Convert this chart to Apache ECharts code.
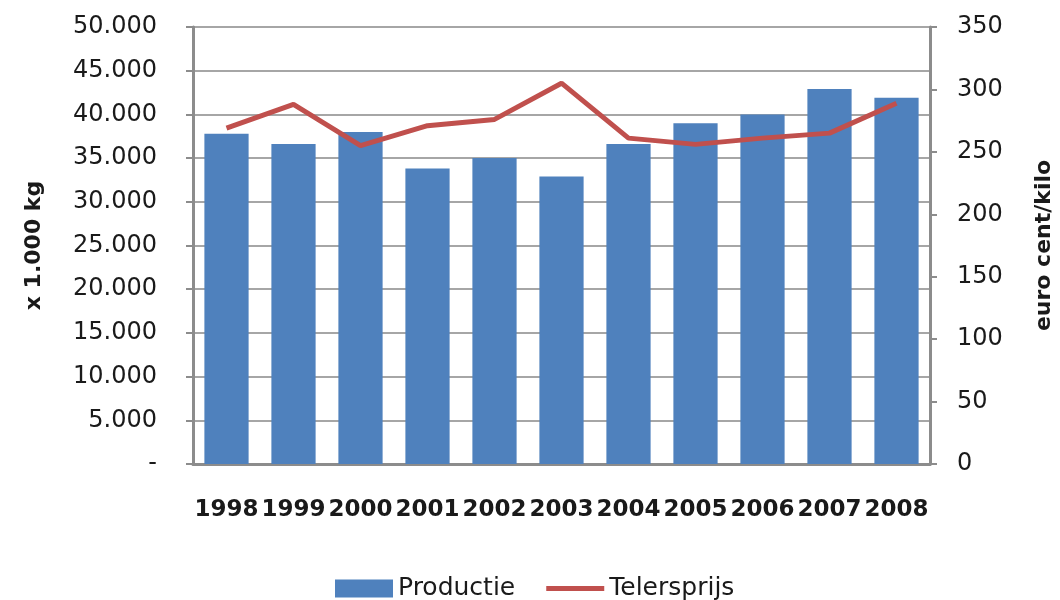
<!DOCTYPE html>
<html>
<head>
<meta charset="utf-8">
<script src="https://cdn.jsdelivr.net/npm/echarts@6/dist/echarts.min.js"></script>
<style>
  html, body { margin: 0; padding: 0; background: #fff; }
  #chart-container { width: 1060px; height: 600px; }
</style>
</head>
<body>
<div id="chart-container"></div>
<script>
var years = ["1998", "1999", "2000", "2001", "2002", "2003", "2004", "2005", "2006", "2007", "2008"];
// productie in x 1.000 kg
var productie = [37800, 36600, 38000, 33800, 35000, 32900, 36600, 39000, 40000, 42900, 41900];
// telersprijs in eurocent/kilo
var telersprijs = [269, 288, 255, 271, 276, 305, 261, 256, 261, 265, 289];

var textColor = "#1a1a1a";
var axisGray = "#8c8c8c";
var fontFam = "DejaVu Sans";

function fmtThousands(v) {
  if (v === 0) return "-";
  return String(v).replace(/\B(?=(\d{3})+(?!\d))/g, ".");
}

var dom = document.getElementById("chart-container");
var myChart = echarts.init(dom, null, { renderer: "canvas" });

var option = {
  backgroundColor: "#ffffff",
  animation: false,
  textStyle: { fontFamily: fontFam, color: textColor },
  grid: { left: 193, right: 130, top: 27, bottom: 136, outerBoundsMode: "none", containLabel: false },
  legend: {
    left: 330,
    top: 571,
    itemWidth: 58,
    itemHeight: 18,
    itemGap: 31,
    textStyle: { fontSize: 25, color: textColor, fontFamily: fontFam },
    data: [
      { name: "Productie", icon: "rect" },
      // plain line swatch, no marker
      { name: "Telersprijs", icon: "path://M0,0 M58,18 M0,6.5 L58,6.5 L58,11.5 L0,11.5 Z" }
    ]
  },
  xAxis: {
    type: "category",
    data: years,
    axisLine: { lineStyle: { color: axisGray, width: 3 } },
    axisTick: { alignWithLabel: false, length: 8, lineStyle: { color: axisGray, width: 2 } },
    axisLabel: {
      interval: 0,
      margin: 35,
      fontSize: 23,
      fontWeight: "bold",
      color: textColor,
      fontFamily: fontFam
    }
  },
  yAxis: [
    {
      type: "value",
      min: 0,
      max: 50000,
      interval: 5000,
      name: "x 1.000 kg",
      nameLocation: "middle",
      nameRotate: 90,
      nameGap: 148,
      nameTextStyle: { fontSize: 22, fontWeight: "bold", color: textColor, fontFamily: fontFam },
      axisLine: { show: true, lineStyle: { color: axisGray, width: 3 } },
      axisTick: { show: true, length: 7, lineStyle: { color: axisGray, width: 2 } },
      axisLabel: {
        margin: 36,
        fontSize: 24,
        color: textColor,
        fontFamily: fontFam,
        formatter: fmtThousands
      },
      splitLine: { show: true, lineStyle: { color: "#a6a6a6", width: 2 } }
    },
    {
      type: "value",
      min: 0,
      max: 350,
      interval: 50,
      position: "right",
      name: "euro cent/kilo",
      nameLocation: "middle",
      nameRotate: 90,
      nameGap: 103,
      nameTextStyle: { fontSize: 22, fontWeight: "bold", color: textColor, fontFamily: fontFam },
      axisLine: { show: true, lineStyle: { color: axisGray, width: 3 } },
      axisTick: { show: true, length: 7, lineStyle: { color: axisGray, width: 2 } },
      axisLabel: {
        margin: 27,
        fontSize: 24,
        color: textColor,
        fontFamily: fontFam
      },
      splitLine: { show: false }
    }
  ],
  series: [
    {
      name: "Productie",
      type: "bar",
      yAxisIndex: 0,
      barWidth: "66%",
      itemStyle: { color: "#4f81bd" },
      data: productie
    },
    {
      name: "Telersprijs",
      type: "line",
      yAxisIndex: 1,
      symbol: "none",
      lineStyle: { color: "#c0504d", width: 5 },
      itemStyle: { color: "#c0504d" },
      data: telersprijs
    }
  ]
};

myChart.setOption(option);
window.addEventListener("resize", myChart.resize);
</script>
</body>
</html>
